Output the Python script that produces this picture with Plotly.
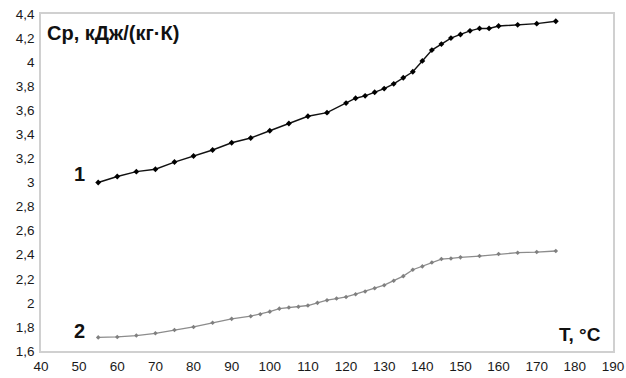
import plotly.graph_objects as go

# Curve 1
t1 = [55, 60, 65, 70, 75, 80, 85, 90, 95, 100, 105, 110, 115, 120, 122.5, 125, 127.5,
      130, 132.5, 135, 137.5, 140, 142.5, 145, 147.5, 150, 152.5, 155, 157.5, 160,
      165, 170, 175]
cp1 = [3.00, 3.05, 3.09, 3.11, 3.17, 3.22, 3.27, 3.33, 3.37, 3.43, 3.49, 3.55, 3.58,
       3.66, 3.70, 3.72, 3.75, 3.78, 3.82, 3.87, 3.92, 4.01, 4.10, 4.15, 4.20, 4.23,
       4.26, 4.28, 4.28, 4.30, 4.31, 4.32, 4.34]

# Curve 2
t2 = [55, 60, 65, 70, 75, 80, 85, 90, 95, 97.5, 100, 102.5, 105, 107.5, 110, 112.5,
      115, 117.5, 120, 122.5, 125, 127.5, 130, 132.5, 135, 137.5, 140, 142.5, 145,
      147.5, 150, 155, 160, 165, 170, 175]
cp2 = [1.713, 1.717, 1.728, 1.747, 1.774, 1.80, 1.834, 1.867, 1.889, 1.906, 1.927,
       1.952, 1.962, 1.967, 1.978, 2.00, 2.022, 2.036, 2.049, 2.072, 2.094, 2.122,
       2.147, 2.183, 2.222, 2.275, 2.303, 2.336, 2.364, 2.369, 2.378, 2.389, 2.406,
       2.417, 2.422, 2.431]

x_ticks = list(range(40, 191, 10))
y_ticks = [1.6, 1.8, 2.0, 2.2, 2.4, 2.6, 2.8, 3.0, 3.2, 3.4, 3.6, 3.8, 4.0, 4.2, 4.4]
y_ticktext = ["1,6", "1,8", "2", "2,2", "2,4", "2,6", "2,8", "3", "3,2", "3,4", "3,6",
              "3,8", "4", "4,2", "4,4"]

FONT = "Liberation Sans, Arial, sans-serif"

fig = go.Figure()
fig.add_trace(go.Scatter(
    x=t2, y=cp2, mode="lines+markers",
    line=dict(color="#8c8c8c", width=1.3),
    marker=dict(symbol="diamond", size=3.5, color="#808080"),
    showlegend=False))
fig.add_trace(go.Scatter(
    x=t1, y=cp1, mode="lines+markers",
    line=dict(color="#111111", width=1.4),
    marker=dict(symbol="diamond", size=4.5, color="#000000"),
    showlegend=False))

fig.update_layout(
    width=626, height=378,
    margin=dict(l=41, r=13, t=14, b=27),
    paper_bgcolor="white", plot_bgcolor="white",
    font=dict(family=FONT, size=13, color="#1a1a1a"),
    xaxis=dict(range=[40, 190], tickvals=x_ticks, ticks="", showgrid=False,
               zeroline=False, showline=True, linecolor="#d0d0d0", linewidth=1.5,
               mirror=True, automargin=False, ticklabeloverflow="allow",
               ticklabelstandoff=2, tickfont=dict(size=13.5, family=FONT)),
    yaxis=dict(range=[1.6, 4.4], tickvals=y_ticks, ticktext=y_ticktext, ticks="",
               showgrid=False, zeroline=False, showline=True, linecolor="#d0d0d0",
               linewidth=1.5, mirror=True, automargin=False, ticklabeloverflow="allow",
               ticklabelstandoff=2, tickfont=dict(size=13.5, family=FONT)),
    annotations=[
        dict(x=41.1, y=4.24, xref="x", yref="y", text="<b>Cp, кДж/(кг·К)</b>",
             showarrow=False, xanchor="left", yanchor="middle",
             font=dict(size=20, family=FONT, color="#111111")),
        dict(x=50.2, y=3.07, xref="x", yref="y", text="<b>1</b>",
             showarrow=False, xanchor="center", yanchor="middle",
             font=dict(size=20, family=FONT, color="#111111")),
        dict(x=50.2, y=1.766, xref="x", yref="y", text="<b>2</b>",
             showarrow=False, xanchor="center", yanchor="middle",
             font=dict(size=20, family=FONT, color="#111111")),
        dict(x=187.4, y=1.733, xref="x", yref="y", text="<b>T, °C</b>",
             showarrow=False, xanchor="right", yanchor="middle",
             font=dict(size=19, family=FONT, color="#111111")),
    ],
)

fig.write_html("out.html",
               config={"displayModeBar": False},
               post_script="document.body.style.margin='0';document.body.style.overflow='hidden';")
